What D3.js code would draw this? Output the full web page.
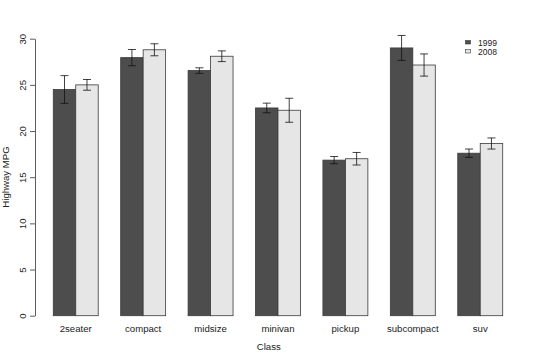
<!DOCTYPE html>
<html><head><meta charset="utf-8">
<script src="https://cdn.jsdelivr.net/npm/d3@7"></script>
<style>body{margin:0;background:#fff}svg{display:block;font-family:"Liberation Sans",Arial,sans-serif}</style>
</head><body>
<script>
const categories = ["2seater","compact","midsize","minivan","pickup","subcompact","suv"];
const years = ["1999","2008"];
const mean1999 = [24.5, 27.95, 26.55, 22.5, 16.85, 29.0, 17.6];
const mean2008 = [25.0, 28.8, 28.1, 22.25, 17.0, 27.15, 18.65];
const se1999 = [1.5, 0.88, 0.3, 0.52, 0.39, 1.35, 0.45];
const se2008 = [0.58, 0.65, 0.58, 1.3, 0.68, 1.2, 0.6];
const yTicks = [0,5,10,15,20,25,30];
const colors = ["#4d4d4d","#e6e6e6"];

const W=540,H=360;
const svg=d3.select("body").append("svg").attr("width",W).attr("height",H);

// R barplot units: each group = 1 space + 2 bars
const x=d3.scaleLinear().domain([0,21]).range([30.8,502.7]);
const y=d3.scaleLinear().domain([0,30]).range([315.7,38.7]);

const data=[];
categories.forEach((c,i)=>{
  [mean1999,mean2008].forEach((arr,j)=>{
    data.push({c,i,j,v:arr[i],se:(j?se2008:se1999)[i]});
  });
});

const g=svg.append("g");
g.selectAll("rect.bar").data(data).enter().append("rect")
  .attr("x",d=>x(1+3*d.i+d.j)).attr("width",d=>x(2)-x(1))
  .attr("y",d=>y(d.v)).attr("height",d=>y(0)-y(d.v))
  .attr("fill",d=>colors[d.j]).attr("stroke","#3a3a3a").attr("stroke-width",0.8);

// error bars
const eb=g.selectAll("g.eb").data(data).enter().append("g").attr("stroke","#111").attr("stroke-width",0.8);
eb.append("line").attr("x1",d=>x(1.5+3*d.i+d.j)).attr("x2",d=>x(1.5+3*d.i+d.j))
  .attr("y1",d=>y(d.v-d.se)).attr("y2",d=>y(d.v+d.se));
eb.append("line").attr("x1",d=>x(1.5+3*d.i+d.j)-4).attr("x2",d=>x(1.5+3*d.i+d.j)+4)
  .attr("y1",d=>y(d.v+d.se)).attr("y2",d=>y(d.v+d.se));
eb.append("line").attr("x1",d=>x(1.5+3*d.i+d.j)-4).attr("x2",d=>x(1.5+3*d.i+d.j)+4)
  .attr("y1",d=>y(d.v-d.se)).attr("y2",d=>y(d.v-d.se));

// y axis
const ya=svg.append("g").attr("transform","translate(35,0)")
  .call(d3.axisLeft(y).tickValues(yTicks).tickSize(5).tickSizeOuter(0).tickFormat(d3.format("d")));
ya.select(".domain").attr("stroke","#333").attr("stroke-width",0.8);
ya.selectAll(".tick line").attr("stroke","#333").attr("stroke-width",0.8);
ya.selectAll(".tick text").attr("x",0).attr("dy",0).attr("fill","#222")
  .attr("font-size","9.6px").attr("font-family","Liberation Sans, Arial, sans-serif")
  .attr("text-anchor","middle")
  .attr("transform","translate(-9,0) rotate(-90)");

// category labels
svg.append("g").selectAll("text").data(categories).enter().append("text")
  .attr("x",(d,i)=>x(2+3*i)).attr("y",332).attr("text-anchor","middle")
  .attr("font-size","9.6px").attr("fill","#222").text(d=>d);

svg.append("text").attr("x",x(10.5)+2).attr("y",350).attr("text-anchor","middle")
  .attr("font-size","9.6px").attr("fill","#222").text("Class");
svg.append("text").attr("transform","translate(9,177) rotate(-90)").attr("text-anchor","middle")
  .attr("font-size","9.6px").attr("fill","#222").text("Highway MPG");

// legend
const lg=svg.append("g").selectAll("g").data(years).enter().append("g");
lg.append("rect").attr("x",465.5).attr("y",(d,i)=>40.5+i*9).attr("width",5).attr("height",3.5)
  .attr("fill",(d,i)=>colors[i]).attr("stroke","#3a3a3a").attr("stroke-width",0.6);
lg.append("text").attr("x",478).attr("y",(d,i)=>45.8+i*9)
  .attr("font-size","8.5px").attr("fill","#222")
  .text(d=>d);
</script>
</body></html>
